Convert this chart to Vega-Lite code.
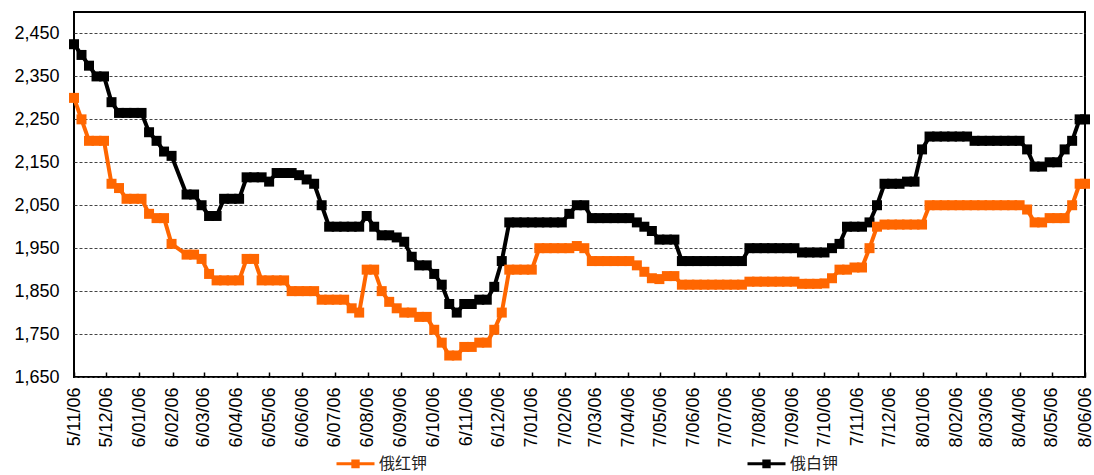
{
  "$schema": "https://vega.github.io/schema/vega-lite/v6.json",
  "width": 1011,
  "height": 365,
  "autosize": {"type": "none"},
  "padding": {"left": 74, "top": 12, "right": 9, "bottom": 98},
  "background": "#ffffff",
  "config": {
    "font": "Liberation Sans, Noto Sans CJK SC",
    "view": {"stroke": "#000000", "strokeWidth": 2},
    "axis": {"labelFont": "Liberation Sans", "labelColor": "#000000", "labelFontSize": 18, "title": null}
  },
  "data": {"values": [
    {"d":"2015-11-06","俄红钾":2300,"俄白钾":2425},
    {"d":"2015-11-13","俄红钾":2250,"俄白钾":2400},
    {"d":"2015-11-20","俄红钾":2200,"俄白钾":2375},
    {"d":"2015-11-27","俄红钾":2200,"俄白钾":2350},
    {"d":"2015-12-04","俄红钾":2200,"俄白钾":2350},
    {"d":"2015-12-11","俄红钾":2100,"俄白钾":2290},
    {"d":"2015-12-18","俄红钾":2090,"俄白钾":2265},
    {"d":"2015-12-25","俄红钾":2065,"俄白钾":2265},
    {"d":"2016-01-01","俄红钾":2065,"俄白钾":2265},
    {"d":"2016-01-08","俄红钾":2065,"俄白钾":2265},
    {"d":"2016-01-15","俄红钾":2030,"俄白钾":2220},
    {"d":"2016-01-22","俄红钾":2020,"俄白钾":2200},
    {"d":"2016-01-29","俄红钾":2020,"俄白钾":2175},
    {"d":"2016-02-05","俄红钾":1960,"俄白钾":2165},
    {"d":"2016-02-19","俄红钾":1935,"俄白钾":2075},
    {"d":"2016-02-26","俄红钾":1935,"俄白钾":2075},
    {"d":"2016-03-04","俄红钾":1925,"俄白钾":2050},
    {"d":"2016-03-11","俄红钾":1890,"俄白钾":2025},
    {"d":"2016-03-18","俄红钾":1875,"俄白钾":2025},
    {"d":"2016-03-25","俄红钾":1875,"俄白钾":2065},
    {"d":"2016-04-01","俄红钾":1875,"俄白钾":2065},
    {"d":"2016-04-08","俄红钾":1875,"俄白钾":2065},
    {"d":"2016-04-15","俄红钾":1925,"俄白钾":2115},
    {"d":"2016-04-22","俄红钾":1925,"俄白钾":2115},
    {"d":"2016-04-29","俄红钾":1875,"俄白钾":2115},
    {"d":"2016-05-06","俄红钾":1875,"俄白钾":2105},
    {"d":"2016-05-13","俄红钾":1875,"俄白钾":2125},
    {"d":"2016-05-20","俄红钾":1875,"俄白钾":2125},
    {"d":"2016-05-27","俄红钾":1850,"俄白钾":2125},
    {"d":"2016-06-03","俄红钾":1850,"俄白钾":2120},
    {"d":"2016-06-10","俄红钾":1850,"俄白钾":2110},
    {"d":"2016-06-17","俄红钾":1850,"俄白钾":2100},
    {"d":"2016-06-24","俄红钾":1830,"俄白钾":2050},
    {"d":"2016-07-01","俄红钾":1830,"俄白钾":2000},
    {"d":"2016-07-08","俄红钾":1830,"俄白钾":2000},
    {"d":"2016-07-15","俄红钾":1830,"俄白钾":2000},
    {"d":"2016-07-22","俄红钾":1810,"俄白钾":2000},
    {"d":"2016-07-29","俄红钾":1800,"俄白钾":2000},
    {"d":"2016-08-05","俄红钾":1900,"俄白钾":2025},
    {"d":"2016-08-12","俄红钾":1900,"俄白钾":2000},
    {"d":"2016-08-19","俄红钾":1850,"俄白钾":1980},
    {"d":"2016-08-26","俄红钾":1825,"俄白钾":1980},
    {"d":"2016-09-02","俄红钾":1810,"俄白钾":1975},
    {"d":"2016-09-09","俄红钾":1800,"俄白钾":1965},
    {"d":"2016-09-16","俄红钾":1800,"俄白钾":1930},
    {"d":"2016-09-23","俄红钾":1790,"俄白钾":1910},
    {"d":"2016-09-30","俄红钾":1790,"俄白钾":1910},
    {"d":"2016-10-07","俄红钾":1760,"俄白钾":1890},
    {"d":"2016-10-14","俄红钾":1730,"俄白钾":1865},
    {"d":"2016-10-21","俄红钾":1700,"俄白钾":1820},
    {"d":"2016-10-28","俄红钾":1700,"俄白钾":1800},
    {"d":"2016-11-04","俄红钾":1720,"俄白钾":1820},
    {"d":"2016-11-11","俄红钾":1720,"俄白钾":1820},
    {"d":"2016-11-18","俄红钾":1730,"俄白钾":1830},
    {"d":"2016-11-25","俄红钾":1730,"俄白钾":1830},
    {"d":"2016-12-02","俄红钾":1760,"俄白钾":1860},
    {"d":"2016-12-09","俄红钾":1800,"俄白钾":1920},
    {"d":"2016-12-16","俄红钾":1900,"俄白钾":2010},
    {"d":"2016-12-23","俄红钾":1900,"俄白钾":2010},
    {"d":"2016-12-30","俄红钾":1900,"俄白钾":2010},
    {"d":"2017-01-06","俄红钾":1900,"俄白钾":2010},
    {"d":"2017-01-13","俄红钾":1950,"俄白钾":2010},
    {"d":"2017-01-20","俄红钾":1950,"俄白钾":2010},
    {"d":"2017-01-27","俄红钾":1950,"俄白钾":2010},
    {"d":"2017-02-03","俄红钾":1950,"俄白钾":2010},
    {"d":"2017-02-10","俄红钾":1950,"俄白钾":2030},
    {"d":"2017-02-17","俄红钾":1955,"俄白钾":2050},
    {"d":"2017-02-24","俄红钾":1950,"俄白钾":2050},
    {"d":"2017-03-03","俄红钾":1920,"俄白钾":2020},
    {"d":"2017-03-10","俄红钾":1920,"俄白钾":2020},
    {"d":"2017-03-17","俄红钾":1920,"俄白钾":2020},
    {"d":"2017-03-24","俄红钾":1920,"俄白钾":2020},
    {"d":"2017-03-31","俄红钾":1920,"俄白钾":2020},
    {"d":"2017-04-07","俄红钾":1920,"俄白钾":2020},
    {"d":"2017-04-14","俄红钾":1910,"俄白钾":2010},
    {"d":"2017-04-21","俄红钾":1895,"俄白钾":2000},
    {"d":"2017-04-28","俄红钾":1880,"俄白钾":1990},
    {"d":"2017-05-05","俄红钾":1878,"俄白钾":1970},
    {"d":"2017-05-12","俄红钾":1885,"俄白钾":1970},
    {"d":"2017-05-19","俄红钾":1885,"俄白钾":1970},
    {"d":"2017-05-26","俄红钾":1865,"俄白钾":1920},
    {"d":"2017-06-02","俄红钾":1865,"俄白钾":1920},
    {"d":"2017-06-09","俄红钾":1865,"俄白钾":1920},
    {"d":"2017-06-16","俄红钾":1865,"俄白钾":1920},
    {"d":"2017-06-23","俄红钾":1865,"俄白钾":1920},
    {"d":"2017-06-30","俄红钾":1865,"俄白钾":1920},
    {"d":"2017-07-07","俄红钾":1865,"俄白钾":1920},
    {"d":"2017-07-14","俄红钾":1865,"俄白钾":1920},
    {"d":"2017-07-21","俄红钾":1865,"俄白钾":1920},
    {"d":"2017-07-28","俄红钾":1872,"俄白钾":1950},
    {"d":"2017-08-04","俄红钾":1872,"俄白钾":1950},
    {"d":"2017-08-11","俄红钾":1872,"俄白钾":1950},
    {"d":"2017-08-18","俄红钾":1872,"俄白钾":1950},
    {"d":"2017-08-25","俄红钾":1872,"俄白钾":1950},
    {"d":"2017-09-01","俄红钾":1872,"俄白钾":1950},
    {"d":"2017-09-08","俄红钾":1872,"俄白钾":1950},
    {"d":"2017-09-15","俄红钾":1867,"俄白钾":1940},
    {"d":"2017-09-22","俄红钾":1867,"俄白钾":1940},
    {"d":"2017-09-29","俄红钾":1867,"俄白钾":1940},
    {"d":"2017-10-06","俄红钾":1868,"俄白钾":1940},
    {"d":"2017-10-13","俄红钾":1880,"俄白钾":1950},
    {"d":"2017-10-20","俄红钾":1900,"俄白钾":1960},
    {"d":"2017-10-27","俄红钾":1900,"俄白钾":2000},
    {"d":"2017-11-03","俄红钾":1905,"俄白钾":2000},
    {"d":"2017-11-10","俄红钾":1905,"俄白钾":2000},
    {"d":"2017-11-17","俄红钾":1950,"俄白钾":2010},
    {"d":"2017-11-24","俄红钾":2000,"俄白钾":2050},
    {"d":"2017-12-01","俄红钾":2005,"俄白钾":2100},
    {"d":"2017-12-08","俄红钾":2005,"俄白钾":2100},
    {"d":"2017-12-15","俄红钾":2005,"俄白钾":2100},
    {"d":"2017-12-22","俄红钾":2005,"俄白钾":2105},
    {"d":"2017-12-29","俄红钾":2005,"俄白钾":2105},
    {"d":"2018-01-05","俄红钾":2005,"俄白钾":2180},
    {"d":"2018-01-12","俄红钾":2050,"俄白钾":2210},
    {"d":"2018-01-19","俄红钾":2050,"俄白钾":2210},
    {"d":"2018-01-26","俄红钾":2050,"俄白钾":2210},
    {"d":"2018-02-02","俄红钾":2050,"俄白钾":2210},
    {"d":"2018-02-09","俄红钾":2050,"俄白钾":2210},
    {"d":"2018-02-16","俄红钾":2050,"俄白钾":2210},
    {"d":"2018-02-23","俄红钾":2050,"俄白钾":2200},
    {"d":"2018-03-02","俄红钾":2050,"俄白钾":2200},
    {"d":"2018-03-09","俄红钾":2050,"俄白钾":2200},
    {"d":"2018-03-16","俄红钾":2050,"俄白钾":2200},
    {"d":"2018-03-23","俄红钾":2050,"俄白钾":2200},
    {"d":"2018-03-30","俄红钾":2050,"俄白钾":2200},
    {"d":"2018-04-06","俄红钾":2050,"俄白钾":2200},
    {"d":"2018-04-13","俄红钾":2040,"俄白钾":2180},
    {"d":"2018-04-20","俄红钾":2010,"俄白钾":2140},
    {"d":"2018-04-27","俄红钾":2010,"俄白钾":2140},
    {"d":"2018-05-04","俄红钾":2020,"俄白钾":2150},
    {"d":"2018-05-11","俄红钾":2020,"俄白钾":2150},
    {"d":"2018-05-18","俄红钾":2020,"俄白钾":2180},
    {"d":"2018-05-25","俄红钾":2050,"俄白钾":2200},
    {"d":"2018-06-01","俄红钾":2100,"俄白钾":2250},
    {"d":"2018-06-06","俄红钾":2100,"俄白钾":2250}
  ]},
  "transform": [
    {"fold": ["俄红钾", "俄白钾"], "as": ["series", "price"]}
  ],
  "mark": {
    "type": "line",
    "strokeWidth": 4,
    "point": {"shape": "square", "size": 100, "filled": true}
  },
  "encoding": {
    "x": {
      "field": "d",
      "type": "temporal",
      "scale": {
        "type": "utc",
        "domain": [
          {"year": 2015, "month": 11, "date": 6, "utc": true},
          {"year": 2018, "month": 6, "date": 6, "utc": true}
        ]
      },
      "axis": {
        "grid": false,
        "domain": false,
        "values": [
          {"year": 2015, "month": 11, "date": 6, "utc": true},
          {"year": 2015, "month": 12, "date": 6, "utc": true},
          {"year": 2016, "month": 1, "date": 6, "utc": true},
          {"year": 2016, "month": 2, "date": 6, "utc": true},
          {"year": 2016, "month": 3, "date": 6, "utc": true},
          {"year": 2016, "month": 4, "date": 6, "utc": true},
          {"year": 2016, "month": 5, "date": 6, "utc": true},
          {"year": 2016, "month": 6, "date": 6, "utc": true},
          {"year": 2016, "month": 7, "date": 6, "utc": true},
          {"year": 2016, "month": 8, "date": 6, "utc": true},
          {"year": 2016, "month": 9, "date": 6, "utc": true},
          {"year": 2016, "month": 10, "date": 6, "utc": true},
          {"year": 2016, "month": 11, "date": 6, "utc": true},
          {"year": 2016, "month": 12, "date": 6, "utc": true},
          {"year": 2017, "month": 1, "date": 6, "utc": true},
          {"year": 2017, "month": 2, "date": 6, "utc": true},
          {"year": 2017, "month": 3, "date": 6, "utc": true},
          {"year": 2017, "month": 4, "date": 6, "utc": true},
          {"year": 2017, "month": 5, "date": 6, "utc": true},
          {"year": 2017, "month": 6, "date": 6, "utc": true},
          {"year": 2017, "month": 7, "date": 6, "utc": true},
          {"year": 2017, "month": 8, "date": 6, "utc": true},
          {"year": 2017, "month": 9, "date": 6, "utc": true},
          {"year": 2017, "month": 10, "date": 6, "utc": true},
          {"year": 2017, "month": 11, "date": 6, "utc": true},
          {"year": 2017, "month": 12, "date": 6, "utc": true},
          {"year": 2018, "month": 1, "date": 6, "utc": true},
          {"year": 2018, "month": 2, "date": 6, "utc": true},
          {"year": 2018, "month": 3, "date": 6, "utc": true},
          {"year": 2018, "month": 4, "date": 6, "utc": true},
          {"year": 2018, "month": 5, "date": 6, "utc": true},
          {"year": 2018, "month": 6, "date": 6, "utc": true}
        ],
        "labelExpr": "substring(utcFormat(datum.value, '%Y/%m/%d'), 3)",
        "labelAngle": 270,
        "labelPadding": 15,
        "tickSize": -5,
        "tickColor": "#000000",
        "tickWidth": 1.5,
        "labelOverlap": false,
        "labelBound": false,
        "labelFlush": false
      }
    },
    "y": {
      "field": "price",
      "type": "quantitative",
      "scale": {"domain": [1650, 2500], "nice": false, "zero": false},
      "axis": {
        "values": [1650, 1750, 1850, 1950, 2050, 2150, 2250, 2350, 2450],
        "format": ",d",
        "grid": true,
        "gridColor": "#444444",
        "gridDash": [3, 2],
        "gridWidth": 1,
        "ticks": false,
        "domain": false,
        "labelPadding": 15
      }
    },
    "color": {
      "field": "series",
      "type": "nominal",
      "scale": {"domain": ["俄红钾", "俄白钾"], "range": ["#FF6600", "#000000"]},
      "legend": {
        "title": null,
        "orient": "none",
        "legendX": 261,
        "legendY": 431,
        "direction": "horizontal",
        "padding": 0,
        "columnPadding": 313,
        "symbolType": "M-1,0H1M-0.22,-0.15H0.22M-0.22,-0.075H0.22M-0.22,0.075H0.22M-0.22,0.15H0.22",
        "symbolSize": 1444,
        "symbolStrokeWidth": 3,
        "labelFont": "Noto Sans CJK SC",
        "labelFontSize": 16,
        "labelColor": "#222222",
        "labelOffset": 3
      }
    }
  }
}
